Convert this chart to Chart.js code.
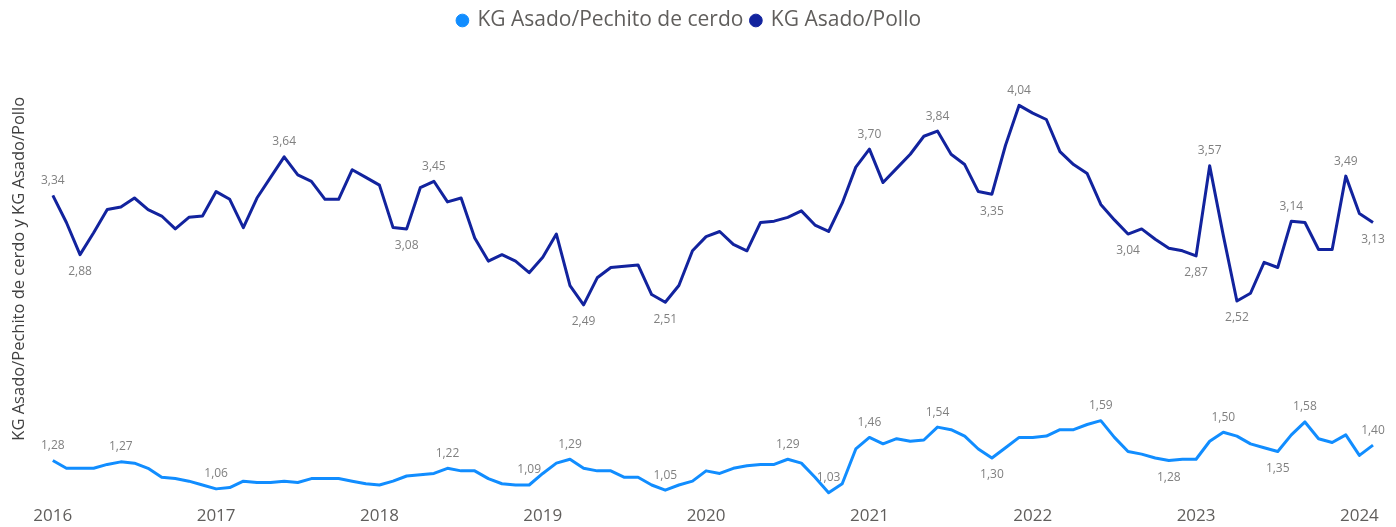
<!DOCTYPE html>
<html>
<head>
<meta charset="utf-8">
<script src="https://cdn.jsdelivr.net/npm/chart.js@4/dist/chart.umd.min.js"></script>
<style>
  html, body { margin: 0; padding: 0; background: #fff; }
  #chart { display: block; }
</style>
</head>
<body>
<canvas id="chart" width="1396" height="527"></canvas>
<script>
// ---- data (monthly, Jan 2016 .. Feb 2024) ----
const years = ['2016', '2017', '2018', '2019', '2020', '2021', '2022', '2023', '2024'];
const months = ['01', '02', '03', '04', '05', '06', '07', '08', '09', '10', '11', '12'];

const cerdo = [
  1.28, 1.22, 1.22, 1.22, 1.25, 1.27, 1.26, 1.22, 1.15, 1.14, 1.12, 1.09,
  1.06, 1.07, 1.12, 1.11, 1.11, 1.12, 1.11, 1.14, 1.14, 1.14, 1.12, 1.10,
  1.09, 1.12, 1.16, 1.17, 1.18, 1.22, 1.20, 1.20, 1.14, 1.10, 1.09, 1.09,
  1.18, 1.26, 1.29, 1.22, 1.20, 1.20, 1.15, 1.15, 1.09, 1.05, 1.09, 1.12,
  1.20, 1.18, 1.22, 1.24, 1.25, 1.25, 1.29, 1.26, 1.15, 1.03, 1.10, 1.37,
  1.46, 1.41, 1.45, 1.43, 1.44, 1.54, 1.52, 1.47, 1.37, 1.30, 1.38, 1.46,
  1.46, 1.47, 1.52, 1.52, 1.56, 1.59, 1.46, 1.35, 1.33, 1.30, 1.28, 1.29,
  1.29, 1.43, 1.50, 1.47, 1.41, 1.38, 1.35, 1.48, 1.58, 1.45, 1.42, 1.48,
  1.32, 1.40
];

const pollo = [
  3.34, 3.13, 2.88, 3.05, 3.23, 3.25, 3.32, 3.23, 3.18, 3.08, 3.17, 3.18,
  3.37, 3.31, 3.09, 3.32, 3.48, 3.64, 3.50, 3.45, 3.31, 3.31, 3.54, 3.48,
  3.42, 3.09, 3.08, 3.40, 3.45, 3.29, 3.32, 3.01, 2.83, 2.88, 2.83, 2.74,
  2.86, 3.04, 2.64, 2.49, 2.70, 2.78, 2.79, 2.80, 2.57, 2.51, 2.64, 2.91,
  3.02, 3.06, 2.96, 2.91, 3.13, 3.14, 3.17, 3.22, 3.11, 3.06, 3.28, 3.56,
  3.70, 3.44, 3.55, 3.66, 3.80, 3.84, 3.66, 3.58, 3.37, 3.35, 3.73, 4.04,
  3.98, 3.93, 3.68, 3.58, 3.51, 3.27, 3.15, 3.04, 3.08, 3.00, 2.93, 2.91,
  2.87, 3.57, 3.03, 2.52, 2.58, 2.82, 2.78, 3.14, 3.13, 2.92, 2.92, 3.49,
  3.20, 3.13
];

// which points carry a value label (index, true = label under the point)
const cerdoLabels = [[0, false], [5, false], [12, false], [29, false], [35, false], [38, false],
  [45, false], [54, false], [57, false], [60, false], [65, false], [69, true], [77, false],
  [82, true], [86, false], [90, true], [92, false], [97, false]];
const polloLabels = [[0, false], [2, true], [17, false], [26, true], [28, false], [39, true],
  [45, true], [60, false], [65, false], [69, true], [71, false], [79, true], [84, true],
  [85, false], [87, true], [91, false], [95, false], [97, true]];

const categories = [];
years.forEach(y => months.forEach(m => {
  if (categories.length < pollo.length) categories.push(y + '-' + m);
}));

const FONT = "'Open Sans', 'Noto Sans', sans-serif";

// draws the little grey numbers next to chosen points
const valueLabels = {
  id: 'valueLabels',
  afterDatasetsDraw(chart) {
    const ctx = chart.ctx;
    ctx.save();
    ctx.font = '12px ' + FONT;
    ctx.fillStyle = '#808080';
    ctx.textAlign = 'center';
    ctx.textBaseline = 'middle';
    chart.data.datasets.forEach((ds, di) => {
      const meta = chart.getDatasetMeta(di);
      ds.pointLabels.forEach(([i, below]) => {
        const pt = meta.data[i];
        const txt = ds.data[i].toFixed(2).replace('.', ',');
        ctx.fillText(txt, pt.x, pt.y + (below ? 17 : -15));
      });
    });
    ctx.restore();
  }
};

new Chart('chart', {
  type: 'line',
  data: {
    labels: categories,
    datasets: [{
      label: 'KG Asado/Pechito de cerdo',
      data: cerdo,
      borderColor: '#118DFF',
      backgroundColor: '#118DFF',
      pointLabels: cerdoLabels
    }, {
      label: 'KG Asado/Pollo',
      data: pollo,
      borderColor: '#12239E',
      backgroundColor: '#12239E',
      pointLabels: polloLabels
    }]
  },
  options: {
    responsive: false,
    animation: false,
    devicePixelRatio: 1,
    layout: { padding: { left: 6, right: 23, top: 2, bottom: 0 } },
    elements: {
      line: { borderWidth: 3, tension: 0, borderJoinStyle: 'round' },
      point: { radius: 0 }
    },
    plugins: {
      tooltip: { enabled: false },
      legend: {
        position: 'top',
        labels: {
          usePointStyle: true,
          pointStyle: 'circle',
          boxWidth: 9,
          boxHeight: 9,
          padding: 8,
          color: '#605E5C',
          font: { family: FONT, size: 21 }
        }
      }
    },
    scales: {
      x: {
        grid: { display: false },
        border: { display: false },
        ticks: {
          autoSkip: false,
          maxRotation: 0,
          padding: 1,
          color: '#605E5C',
          font: { family: FONT, size: 17 },
          callback(v) {
            const c = categories[v];
            return c.endsWith('-01') ? c.slice(0, 4) : '';
          }
        }
      },
      y: {
        min: 1.0,
        max: 4.54,
        grid: { display: false },
        border: { display: false },
        ticks: { display: false },
        title: {
          display: true,
          text: 'KG Asado/Pechito de cerdo y KG Asado/Pollo',
          color: '#404040',
          font: { family: FONT, size: 16.5 },
          padding: { top: 3, bottom: 16 }
        }
      }
    }
  },
  plugins: [valueLabels]
});
</script>
</body>
</html>
